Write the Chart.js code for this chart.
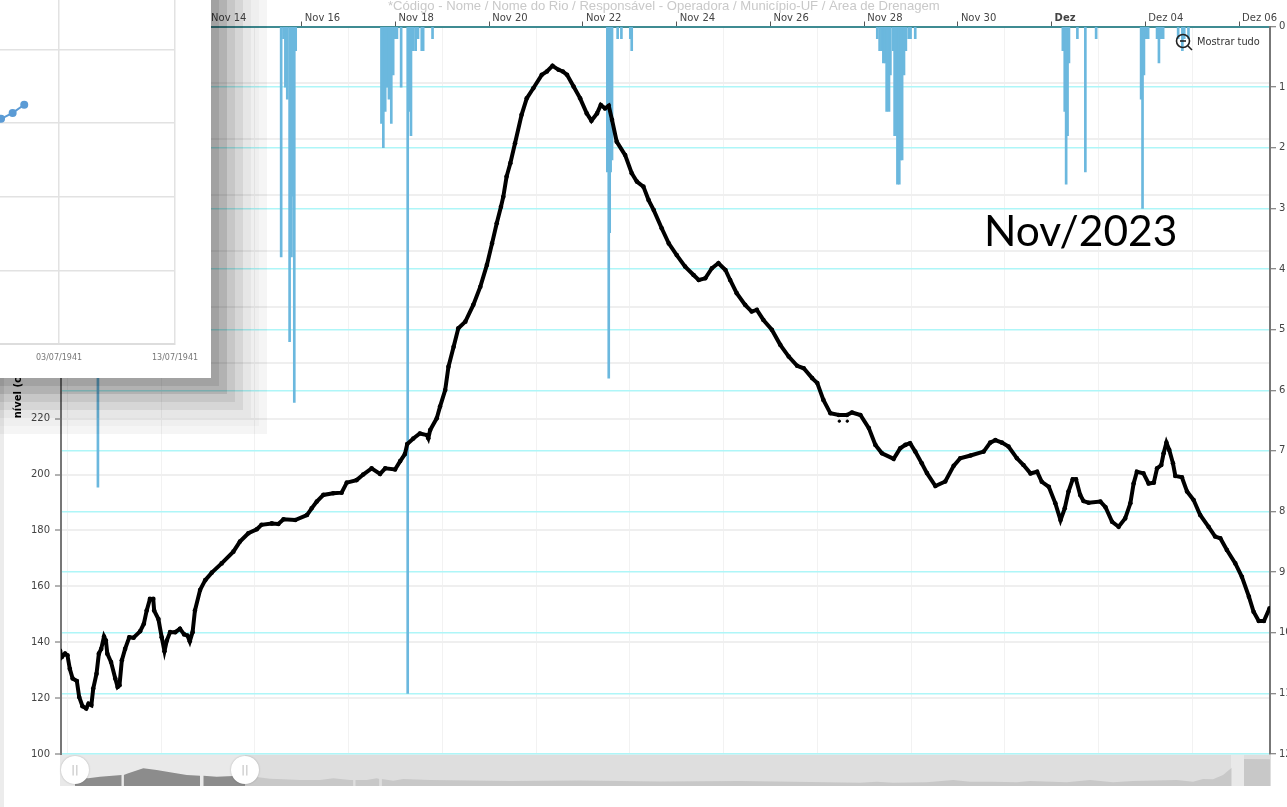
<!DOCTYPE html>
<html lang="pt">
<head>
<meta charset="utf-8">
<title>Nov/2023</title>
<script src="https://cdn.jsdelivr.net/npm/chart.js@4"></script>
<style>
    html, body { margin: 0; padding: 0; background: #fff; overflow: hidden; }
    #page { position: relative; width: 1287px; height: 807px; overflow: hidden; }
    #main { position: absolute; left: 0; top: 0; }
    #strip { position: absolute; left: 0; top: 0; width: 4px; height: 807px; background: #ececec; }
    #heading { position: absolute; left: 388px; top: -2px; white-space: nowrap; color: #c9c9c9;
        font: 13.1px "Liberation Sans", sans-serif; }
    #period { position: absolute; left: 984px; top: 204px; color: #000; font: 42.5px Lato, sans-serif; white-space: nowrap; }
    #showall { position: absolute; left: 1197px; top: 36px; color: #333; font: 9.8px "DejaVu Sans", sans-serif; white-space: nowrap; }
    #zoomicon { position: absolute; left: 1174px; top: 32px; }
    #panel { position: absolute; left: 0; top: 0; width: 211px; height: 378px; background: #fff;
        box-shadow: 0 0 0 8px rgba(0,0,0,.091), 0 0 0 16px rgba(0,0,0,.111), 0 0 0 24px rgba(0,0,0,.07),
            0 0 0 32px rgba(0,0,0,.07), 0 0 0 40px rgba(0,0,0,.038), 0 0 0 48px rgba(0,0,0,.029), 0 0 0 56px rgba(0,0,0,.039); }
    #nav { position: absolute; left: 60px; top: 755px; width: 1211px; height: 31px;
        background: linear-gradient(to right, #e9e9e9 0, #e9e9e9 185px, #dedede 185px, #dedede 1171px, #e9e9e9 1171px, #e9e9e9 1184px, #dedede 1184px); }
    .handle { position: absolute; top: 756px; width: 28px; height: 28px; border-radius: 50%; background: #fff;
        box-shadow: 0 0 2px rgba(0,0,0,.25); text-align: center; color: #bbb; font: 11px/28px "DejaVu Sans", sans-serif; }
</style>
</head>
<body>
<div id="page">
    <canvas id="main" width="1287" height="807"></canvas>
    <div id="nav"><canvas id="navChart" width="1211" height="31"></canvas></div>
    <div class="handle" style="left:61px">||</div>
    <div class="handle" style="left:231px">||</div>
    <div id="strip"></div>
    <div id="heading">*Código - Nome / Nome do Rio / Responsável - Operadora / Município-UF / Área de Drenagem</div>
    <div id="period">Nov/2023</div>
    <svg id="zoomicon" width="20" height="20" viewBox="0 0 20 20">
        <circle cx="9" cy="9" r="6.5" fill="none" stroke="#222" stroke-width="1.6"/>
        <line x1="6" y1="9" x2="12" y2="9" stroke="#222" stroke-width="1.6"/>
        <line x1="14" y1="14" x2="18" y2="18" stroke="#222" stroke-width="1.6"/>
    </svg>
    <div id="showall">Mostrar tudo</div>
    <div id="panel"><canvas id="panelChart" width="211" height="378"></canvas></div>
</div>

<script>
// days are counted from the start of November, so 32 is the "Dez" tick
const tickDays = [12, 14, 16, 18, 20, 22, 24, 26, 28, 30, 32, 34, 36];
const tickLabels = ['Nov 12', 'Nov 14', 'Nov 16', 'Nov 18', 'Nov 20', 'Nov 22', 'Nov 24', 'Nov 26', 'Nov 28', 'Nov 30', 'Dez', 'Dez 04', 'Dez 06'];
const gridDays = [11, 13, 15, 17, 19, 21, 23, 25, 27, 29, 31, 33, 35];
const levelTicks = [100, 120, 140, 160, 180, 200, 220, 240, 260, 280, 300, 320, 340, 360];

// river level (nivel, cm)
const levelDays = [
    10.84, 10.88, 10.95, 11.0, 11.05, 11.11, 11.2, 11.25, 11.32, 11.4, 11.45, 11.51, 11.55, 11.62, 11.67, 11.72, 11.78, 11.82, 11.85, 11.93,
    12.02, 12.07, 12.11, 12.16, 12.23, 12.32, 12.41, 12.55, 12.63, 12.69, 12.76, 12.83, 12.85, 12.94, 13.01, 13.07, 13.12, 13.19, 13.3, 13.4,
    13.49, 13.56, 13.61, 13.67, 13.72, 13.83, 13.94, 14.08, 14.29, 14.54, 14.68, 14.86, 15.04, 15.14, 15.36, 15.5, 15.61, 15.86, 16.11, 16.21,
    16.32, 16.46, 16.67, 16.85, 16.96, 17.17, 17.31, 17.49, 17.67, 17.78, 17.99, 18.1, 18.2, 18.25, 18.38, 18.52, 18.67, 18.7, 18.74, 18.88,
    18.95, 19.06, 19.13, 19.24, 19.34, 19.49, 19.66, 19.81, 19.95, 20.06, 20.16, 20.25, 20.3, 20.37, 20.45, 20.55, 20.69, 20.8, 20.94, 21.12,
    21.23, 21.35, 21.48, 21.57, 21.66, 21.8, 21.94, 22.08, 22.18, 22.3, 22.38, 22.47, 22.55, 22.62, 22.72, 22.9, 23.04, 23.15, 23.29, 23.4,
    23.51, 23.68, 23.83, 24.0, 24.18, 24.36, 24.47, 24.61, 24.75, 24.89, 25.04, 25.14, 25.28, 25.46, 25.6, 25.71, 25.85, 26.03, 26.21, 26.39,
    26.57, 26.71, 26.89, 27.0, 27.13, 27.28, 27.46, 27.63, 27.74, 27.92, 28.1, 28.24, 28.38, 28.63, 28.77, 28.88, 28.98, 29.09, 29.23, 29.34,
    29.52, 29.73, 29.91, 30.05, 30.27, 30.55, 30.69, 30.8, 30.94, 31.08, 31.26, 31.4, 31.55, 31.69, 31.79, 31.94, 32.08, 32.19, 32.28, 32.36,
    32.45, 32.52, 32.61, 32.68, 32.79, 33.04, 33.15, 33.29, 33.43, 33.57, 33.68, 33.75, 33.82, 33.96, 34.07, 34.18, 34.25, 34.34, 34.39, 34.45,
    34.51, 34.59, 34.64, 34.78, 34.89, 35.03, 35.17, 35.35, 35.49, 35.6, 35.74, 35.92, 36.06, 36.21, 36.31, 36.42, 36.53, 36.65
];
const levelValues = [
    137, 134.7, 135.9, 135.3, 130.5, 127, 126.1, 120.4, 117.1, 116.3, 118, 117.5, 123.4, 128.7, 135.9, 137.6, 142, 140.6, 135.9, 132.9,
    127, 124, 124.6, 133.5, 137.6, 141.8, 141.6, 143.9, 146.6, 151.3, 155.5, 155.5, 151.3, 148.3, 141.8, 136.8, 140.6, 143.6, 143.6, 144.8,
    142.8, 142.4, 140.3, 143.6, 151.3, 158.7, 162.2, 164.9, 168.2, 172.4, 176, 179, 180.4, 182, 182.5, 182.3, 184, 183.7, 185.5, 187.9,
    190.3, 192.7, 193.3, 193.5, 197.1, 198, 200, 202.2, 200.2, 202.2, 201.8, 204.8, 207.3, 210.9, 212.9, 214.7, 214.1, 213, 215.9, 220.1,
    224.3, 230.2, 238.6, 245.7, 252.3, 254.7, 260.7, 267.2, 275, 282.7, 289.9, 295.8, 299.4, 306.6, 311.4, 318.5, 328.7, 334.6, 338.2, 343,
    344.2, 346.2, 344.8, 344.2, 343, 338.8, 334.6, 329.2, 326.6, 329.2, 332.2, 331, 331.9, 326.9, 319.1, 314.3, 307.8, 304.8, 303, 298.2,
    294.6, 288.1, 282.7, 278.5, 274.4, 271.4, 269.6, 270.2, 273.8, 275.6, 273.2, 269.6, 264.9, 260.7, 258.3, 258.9, 255.3, 251.8, 246.4, 242.2,
    238.9, 238, 234.5, 232.7, 226.7, 221.9, 221.3, 221.3, 222.2, 221.3, 216.6, 210.6, 207.6, 205.6, 209.4, 210.6, 211.2, 208.2, 204, 200.5,
    195.9, 197.5, 203.1, 205.8, 206.8, 208.2, 211.4, 212.3, 211.4, 210, 205.8, 203.4, 200.4, 201, 197.4, 195.6, 189.7, 183.7, 187.9, 193.9,
    198.3, 198.3, 192.7, 190.5, 189.9, 190.3, 188.3, 183.1, 181.3, 184.3, 189.7, 196.8, 201, 200.4, 196.8, 197.1, 202.2, 203.4, 207.6, 211.4,
    208.8, 204, 199.5, 199, 193.9, 190.9, 185.5, 181.3, 177.8, 177.2, 173, 168.2, 163.4, 156.3, 150.9, 147.6, 147.6, 152.1
];
const strayDays = [27.47, 27.64];
const strayValues = [219.1, 219.1];

// rain per hour, hanging from the top axis
const rainDays = [
    11.65, 15.56, 15.61, 15.65, 15.69, 15.74, 15.78, 15.82, 15.84, 15.87,
    17.7, 17.74, 17.78, 17.82, 17.86, 17.91, 17.95, 17.99, 18.03, 18.12, 18.26, 18.3, 18.33, 18.38, 18.43, 18.48, 18.56, 18.59, 18.79,
    22.52, 22.55, 22.57, 22.59, 22.62, 22.74, 22.82, 23.01, 23.04,
    28.28, 28.33, 28.38, 28.41, 28.45, 28.48, 28.53, 28.56, 28.62, 28.65, 28.69, 28.71, 28.75, 28.78, 28.81, 28.85, 28.89, 28.95, 28.99, 29.09,
    32.24, 32.28, 32.31, 32.34, 32.37, 32.55, 32.72, 32.95,
    33.91, 33.94, 33.97, 34.02, 34.06, 34.25, 34.29, 34.33, 34.38, 34.7, 34.79, 34.83, 34.92
];
const rainValues = [
    7.6, 3.8, 0.2, 1.0, 1.2, 5.2, 3.8, 2.8, 6.2, 0.4,
    1.6, 2.0, 1.4, 1.0, 1.2, 1.6, 0.8, 0.2, 0.2, 1.0, 11.0, 1.4, 1.8, 0.4, 0.4, 0.2, 0.4, 0.4, 0.2,
    2.4, 5.8, 3.4, 2.4, 2.2, 0.2, 0.2, 0.2, 0.4,
    0.2, 0.4, 0.4, 0.6, 0.6, 1.4, 1.4, 0.8, 0.4, 1.8, 1.8, 2.6, 2.6, 2.2, 2.2, 0.8, 0.4, 0.2, 0.2, 0.2,
    0.4, 1.4, 2.6, 1.8, 0.6, 0.2, 2.4, 0.2,
    1.2, 3.0, 0.8, 0.2, 0.2, 0.2, 0.6, 0.2, 0.2, 0.2, 0.4, 0.2, 0.2
];

// small chart in the overlaid window
const panelDays = [-5, -4, -3];
const panelValues = [3.06, 3.14, 3.25];
const panelTickDays = [0, 10];
const panelTickLabels = ['03/07/1941', '13/07/1941'];
const panelGridValues = [0, 1, 2, 3, 4];

// navigator strip under the chart
const navSelectedPos = [15, 28.3, 40, 61.7, 62.7, 63.7, 68.3, 83.3, 96.7, 110, 126.7, 140, 141.7, 143.3, 156.7, 173.3, 185];
const navSelectedVals = [8, 7.7, 9.3, 11, null, 11, 12.7, 17.7, 16, 13.7, 11, 10.3, null, 10.3, 9.3, 10, 9.3];
const navRestPos = [185, 198.3, 210, 223.3, 240, 260, 273.3, 290, 293.3, 294.3, 295.3, 306.7, 316.7, 319.3, 320.3, 321.7, 333.3, 343.3, 370,
    450, 520, 600, 680, 750, 800, 816.7, 833, 866.7, 893.3, 910, 933, 956.7, 970, 1006.7, 1030, 1053, 1073, 1116.7, 1133, 1143, 1153, 1163, 1171.7, 1178, 1184, 1210];
const navRestVals = [9.3, 8.7, 7.3, 6.7, 6, 6, 7.7, 6, 6, null, 6, 6, 7.7, 7, null, 7, 5.3, 7, 6,
    5, 5.5, 4.5, 5, 4, 3.3, 4.3, 3.3, 3.7, 6, 4.3, 4.3, 3.7, 5, 3.7, 6, 3.7, 5, 6, 4.3, 7, 6.7, 11, 18.3, null, 27, 26.7];

const toPoints = (xs, ys) => xs.map((x, i) => ({ x: x, y: ys[i] }));
const labelFont = { family: '"DejaVu Sans", sans-serif', size: 10 };

new Chart(document.getElementById('main'), {
    data: {
        datasets: [
            {
                type: 'line',
                data: toPoints(levelDays, levelValues),
                yAxisID: 'yLevel',
                borderColor: '#000',
                borderWidth: 4,
                backgroundColor: '#000',
                pointBorderWidth: 0,
                pointRadius: 2.3,
                tension: 0,
                order: 1
            },
            {
                type: 'line',
                data: toPoints(strayDays, strayValues),
                yAxisID: 'yLevel',
                showLine: false,
                backgroundColor: '#000',
                borderColor: '#000',
                pointRadius: 1.2,
                order: 1
            },
            {
                type: 'bar',
                data: toPoints(rainDays, rainValues),
                yAxisID: 'yRain',
                backgroundColor: '#6bb8de',
                barThickness: 2,
                order: 2
            }
        ]
    },
    options: {
        responsive: false,
        animation: false,
        layout: { autoPadding: false, padding: { bottom: 53 } },
        plugins: { legend: { display: false }, tooltip: { enabled: false } },
        scales: {
            x: {
                type: 'linear',
                position: 'top',
                offset: false,
                min: 10.862,
                max: 36.66,
                afterBuildTicks: scale => { scale.ticks = tickDays.map(d => ({ value: d })); },
                afterFit: scale => { scale.height = 26.5; },
                border: { color: '#3f8b92', width: 2 },
                grid: { offset: false, drawOnChartArea: false, tickLength: 5, tickColor: '#555' },
                ticks: {
                    align: 'start',
                    labelOffset: 3,
                    padding: -3,
                    maxRotation: 0,
                    autoSkip: false,
                    color: '#444',
                    font: ctx => ({ family: labelFont.family, size: 10, weight: ctx.tick && ctx.tick.label === 'Dez' ? 'bold' : 'normal' }),
                    callback: (value, index) => tickLabels[index]
                }
            },
            xGrid: {
                type: 'linear',
                position: 'top',
                offset: false,
                min: 10.862,
                max: 36.66,
                afterBuildTicks: scale => { scale.ticks = gridDays.map(d => ({ value: d })); },
                afterFit: scale => { scale.height = 0; },
                border: { display: false },
                grid: { offset: false, color: '#f2f2f2', drawTicks: false },
                ticks: { display: false }
            },
            yLevel: {
                type: 'linear',
                position: 'left',
                min: 100,
                max: 360.3,
                afterBuildTicks: scale => { scale.ticks = levelTicks.map(v => ({ value: v })); },
                afterFit: scale => { scale.width = 61; },
                border: { color: '#777', width: 2 },
                grid: { color: '#efefef', lineWidth: 2, tickLength: 6, tickColor: '#666', tickWidth: 1 },
                ticks: { color: '#444', font: labelFont, padding: 5 },
                title: { display: true, text: 'nível (cm)', color: '#000', font: { family: labelFont.family, size: 10, weight: 'bold' }, padding: { top: 12, bottom: 0 } }
            },
            yRain: {
                type: 'linear',
                position: 'right',
                reverse: true,
                min: 0,
                max: 12,
                afterFit: scale => { scale.width = 17; },
                border: { color: '#777', width: 2 },
                grid: { color: '#aef6f8', lineWidth: 1.5, tickLength: 6, tickColor: '#666', tickWidth: 1 },
                ticks: { stepSize: 1, color: '#444', font: labelFont, padding: 3 }
            }
        }
    }
});

new Chart(document.getElementById('navChart'), {
    type: 'line',
    data: {
        datasets: [
            { data: toPoints(navSelectedPos, navSelectedVals), fill: 'origin', backgroundColor: '#8c8c8c', borderWidth: 0, pointRadius: 0, tension: 0 },
            { data: toPoints(navRestPos, navRestVals), fill: 'origin', backgroundColor: '#c8c8c8', borderWidth: 0, pointRadius: 0, tension: 0 }
        ]
    },
    options: {
        responsive: false,
        animation: false,
        layout: { autoPadding: false },
        plugins: { legend: { display: false }, tooltip: { enabled: false } },
        scales: {
            x: { type: 'linear', min: 0, max: 1211, display: false },
            y: { min: 0, max: 31, display: false }
        }
    }
});

new Chart(document.getElementById('panelChart'), {
    type: 'line',
    data: {
        datasets: [{
            data: toPoints(panelDays, panelValues),
            borderColor: '#5b9bd5',
            backgroundColor: '#5b9bd5',
            borderWidth: 2,
            pointRadius: 3,
            tension: 0
        }]
    },
    options: {
        responsive: false,
        animation: false,
        layout: { autoPadding: false, padding: { right: 36 } },
        plugins: { legend: { display: false }, tooltip: { enabled: false } },
        scales: {
            x: {
                type: 'linear',
                min: -5.09,
                max: 10,
                afterBuildTicks: scale => { scale.ticks = panelTickDays.map(d => ({ value: d })); },
                afterFit: scale => { scale.height = 34; },
                border: { color: '#ddd', width: 2 },
                grid: { color: '#e2e2e2', lineWidth: 1.5, drawTicks: false },
                ticks: {
                    padding: 9,
                    maxRotation: 0,
                    autoSkip: false,
                    color: '#777',
                    font: { family: labelFont.family, size: 8 },
                    callback: (value, index) => panelTickLabels[index]
                }
            },
            y: {
                min: 0,
                max: 4.674,
                afterBuildTicks: scale => { scale.ticks = panelGridValues.map(v => ({ value: v })); },
                afterFit: scale => { scale.width = 0; },
                border: { display: false },
                grid: { color: '#e2e2e2', lineWidth: 1.5, drawTicks: false },
                ticks: { display: false }
            }
        }
    }
});
</script>
</body>
</html>
